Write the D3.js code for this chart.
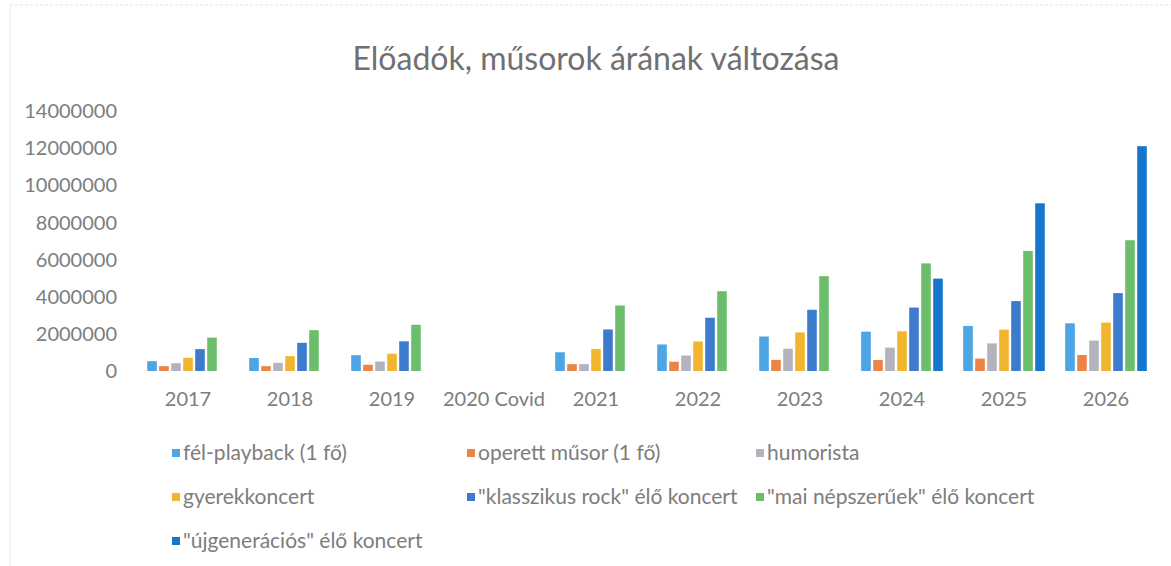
<!DOCTYPE html>
<html>
<head>
<meta charset="utf-8">
<script src="https://cdnjs.cloudflare.com/ajax/libs/d3/7.8.5/d3.min.js"></script>
<style>
    body { margin: 0; background: #fff; }
    svg { display: block; }
    .tick-label { fill: #7d7d7d; font-size: 20px; font-family: Lato, sans-serif; }
    .legend-label { fill: #7d7d7d; font-size: 21px; font-family: Lato, sans-serif; }
    .chart-title { fill: #707070; font-size: 32px; font-family: Lato, sans-serif; }
</style>
</head>
<body>
<svg id="chart"></svg>
<script>

// categories (years) on the x axis
const years = ["2017", "2018", "2019", "2020 Covid", "2021", "2022", "2023", "2024", "2025", "2026"];

// series names, as in the legend
const seriesNames = [
    "fél-playback (1 fő)",
    "operett műsor (1 fő)",
    "humorista",
    "gyerekkoncert",
    "\"klasszikus rock\" élő koncert",
    "\"mai népszerűek\" élő koncert",
    "\"újgenerációs\" élő koncert"
];

// values (null = no bar)
const felPlayback   = [530000, 700000, 850000, null, 1010000, 1430000, 1860000, 2120000, 2430000, 2570000];
const operett       = [260000, 260000, 335000, null, 370000, 500000, 600000, 590000, 670000, 860000];
const humorista     = [420000, 440000, 510000, null, 370000, 835000, 1200000, 1260000, 1490000, 1640000];
const gyerekkoncert = [710000, 800000, 930000, null, 1180000, 1590000, 2080000, 2140000, 2230000, 2610000];
const klasszikus    = [1180000, 1520000, 1600000, null, 2240000, 2870000, 3300000, 3420000, 3770000, 4200000];
const maiNepszeru   = [1800000, 2200000, 2490000, null, 3530000, 4300000, 5110000, 5800000, 6470000, 7050000];
const ujgeneracios  = [null, null, null, null, null, null, null, 4980000, 9040000, 12120000];

const seriesValues = [felPlayback, operett, humorista, gyerekkoncert, klasszikus, maiNepszeru, ujgeneracios];

// y axis ticks
const yTicks = [0, 2000000, 4000000, 6000000, 8000000, 10000000, 12000000, 14000000];

const colors = ["#4ea5e6", "#ea8447", "#b3b3bd", "#f2b52f", "#3d7bcc", "#6cbd6c", "#1576cc"];

const width = 1171, height = 566;

let svg = d3.select("#chart")
    .attr("width", width)
    .attr("height", height);

// faint scanned border
svg.append("line")
    .attr("x1", 10).attr("x2", width).attr("y1", 5).attr("y2", 5)
    .attr("stroke", "#e2e2e2").attr("stroke-dasharray", "3,2");
svg.append("line")
    .attr("x1", 10).attr("x2", 10).attr("y1", 5).attr("y2", height)
    .attr("stroke", "#ededed");

// title
svg.append("text")
    .attr("class", "chart-title")
    .attr("x", 596)
    .attr("y", 70)
    .attr("text-anchor", "middle")
    .text("Előadók, műsorok árának változása");

// scales
let x0 = d3.scaleBand()
    .domain(years)
    .range([137, 1157])
    .paddingInner(0.2)
    .paddingOuter(0.1);

let x1 = d3.scaleBand()
    .domain(d3.range(seriesNames.length))
    .range([0, x0.bandwidth()])
    .paddingInner(0.2);

let y = d3.scaleLinear()
    .domain([0, 14000000])
    .range([371, 111.3]);

// strip d3's default axis styling so the css classes apply
function cleanAxis(g) {
    g.attr("font-family", null).attr("font-size", null);
    g.select(".domain").remove();
    g.selectAll("text")
        .attr("class", "tick-label")
        .attr("fill", null);
}

// y axis (labels only)
let yAxis = d3.axisLeft(y)
    .tickValues(yTicks)
    .tickFormat(d3.format("d"))
    .tickSize(0)
    .tickPadding(0);

svg.append("g")
    .attr("transform", "translate(117,0)")
    .call(yAxis)
    .call(cleanAxis);

// x axis (labels only)
let xAxis = d3.axisBottom(x0)
    .tickSize(0)
    .tickPadding(0);

svg.append("g")
    .attr("transform", "translate(0,392)")
    .call(xAxis)
    .call(cleanAxis);

// bars
let barData = [];
years.forEach((yr, i) => {
    seriesValues.forEach((vals, s) => {
        if (vals[i] != null) barData.push({ year: yr, series: s, value: vals[i] });
    });
});

svg.append("g")
    .selectAll("rect")
    .data(barData)
    .join("rect")
    .attr("x", d => x0(d.year) + x1(d.series))
    .attr("width", x1.bandwidth())
    .attr("y", d => y(d.value))
    .attr("height", d => y(0) - y(d.value))
    .attr("fill", d => colors[d.series]);

// legend
const legendX = [172, 467, 756];
const legendY = [453, 497, 541];

let legend = svg.append("g")
    .selectAll("g")
    .data(seriesNames)
    .join("g")
    .attr("transform", (d, i) => `translate(${legendX[i % 3]},${legendY[Math.floor(i / 3)]})`);

legend.append("rect")
    .attr("x", 0)
    .attr("y", -4)
    .attr("width", 8)
    .attr("height", 8)
    .attr("fill", (d, i) => colors[i]);

legend.append("text")
    .attr("class", "legend-label")
    .attr("x", 11)
    .attr("dy", "0.35em")
    .text(d => d);

</script>
</body>
</html>
